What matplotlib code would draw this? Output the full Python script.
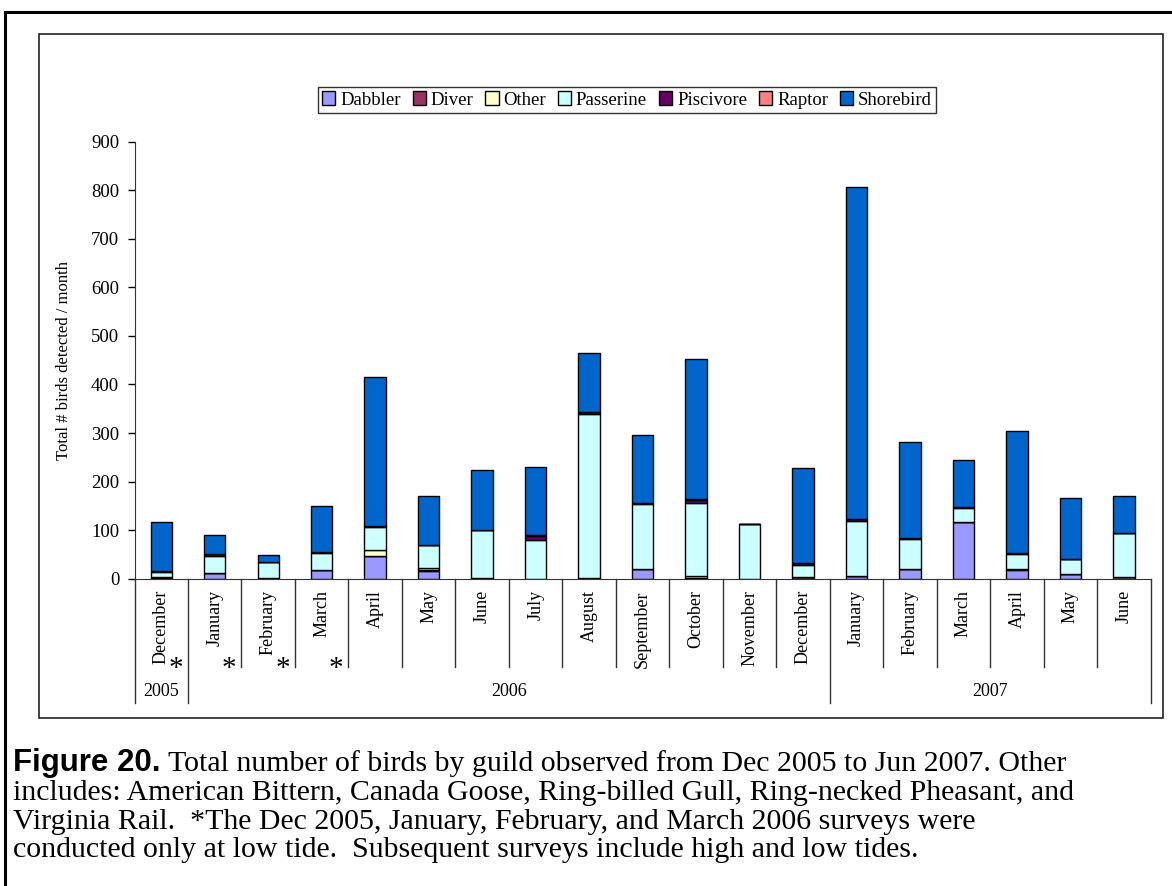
import matplotlib
matplotlib.use('Agg')
import matplotlib.pyplot as plt
import matplotlib.transforms as mtransforms
from matplotlib.patches import Rectangle
from matplotlib.lines import Line2D
import numpy as np

# survey months, Dec 2005 - Jun 2007
months = ['December', 'January', 'February', 'March', 'April', 'May', 'June',
          'July', 'August', 'September', 'October', 'November', 'December',
          'January', 'February', 'March', 'April', 'May', 'June']
years = ['2005', '2006', '2007']
year_span = [1, 12, 6]          # number of months under each year
low_tide_only = [0, 1, 2, 3]    # months marked with *

guilds = ['Dabbler', 'Diver', 'Other', 'Passerine', 'Piscivore', 'Raptor', 'Shorebird']
colors = ['#9999FF', '#993366', '#FFFFCC', '#CCFFFF', '#660066', '#FF8080', '#0066CC']

dabbler   = [1, 11, 1, 17, 47, 15, 1, 0, 0, 20, 2, 0, 0, 6, 20, 117, 18, 9, 3]
diver     = [2, 0, 1, 1, 0, 2, 0, 0, 2, 0, 0, 0, 4, 0, 0, 0, 2, 0, 0]
other     = [0, 0, 0, 0, 12, 5, 0, 0, 0, 0, 4, 0, 0, 0, 0, 0, 0, 0, 1]
passerine = [10, 36, 32, 34, 48, 47, 99, 80, 338, 133, 149, 112, 25, 113, 61, 28, 31, 31, 90]
piscivore = [3, 4, 1, 3, 1, 1, 0, 8, 4, 2, 7, 1, 3, 3, 3, 2, 1, 1, 1]
raptor    = [0, 0, 0, 0, 0, 0, 0, 1, 0, 0, 3, 0, 0, 0, 0, 0, 0, 0, 0]
shorebird = [101, 39, 13, 94, 308, 101, 123, 142, 121, 140, 288, 0, 196, 684, 197, 97, 253, 126, 75]

series = [dabbler, diver, other, passerine, piscivore, raptor, shorebird]

serif = ['Liberation Serif', 'DejaVu Serif']
plt.rcParams['font.family'] = serif

W, H = 1172, 886
fig = plt.figure(figsize=(W / 100, H / 100), dpi=100)

def px(x, y):
    # pixel position (from top left) -> figure fraction
    return x / W, 1 - y / H

# outer frame (top and left only) and inner chart box
fig.add_artist(Line2D([5 / W, 1], [1 - 12 / H] * 2, color='black', lw=2.2, transform=fig.transFigure))
fig.add_artist(Line2D([5 / W] * 2, [0, 1 - 12 / H], color='black', lw=2.2, transform=fig.transFigure))
x0, y1 = px(39, 34)
x1, y0 = px(1163, 718)
fig.add_artist(Rectangle((x0, y0), x1 - x0, y1 - y0, fill=False, ec='#222222', lw=1.2,
                         transform=fig.transFigure))

left, top = px(134.5, 141.7)
right, bottom = px(1150.7, 578.7)
ax = fig.add_axes([left, bottom, right - left, top - bottom])

x = np.arange(len(months))
base = np.zeros(len(months))
for name, vals, c in zip(guilds, series, colors):
    ax.bar(x, vals, width=0.4, bottom=base, color=c, edgecolor='black', linewidth=1.0,
           label=name)
    base += np.array(vals)

ax.set_xlim(-0.5, len(months) - 0.5)
ax.set_ylim(0, 900)
ax.set_yticks(range(0, 901, 100))
ax.tick_params(axis='y', length=5, width=1, pad=6, labelsize=13.5, direction='out')
ax.set_xticks([])
for s in ['top', 'right']:
    ax.spines[s].set_visible(False)
ax.spines['left'].set_color('#333333')
ax.spines['bottom'].set_color('#333333')
ax.set_ylabel('Total # birds detected / month', fontsize=12, labelpad=14)

# category axis: separators, month labels, year row
trans = mtransforms.blended_transform_factory(ax.transData, ax.transAxes)
ph = ax.get_position().height * H
def ay(ypx):
    return -(ypx - 578.7) / ph

year_edges = np.cumsum([0] + year_span) - 0.5
for b in np.arange(len(months) + 1) - 0.5:
    low = ay(703) if b in year_edges else ay(667)
    ax.plot([b, b], [0, low], color='#333333', lw=1, transform=trans, clip_on=False)

for i, m in enumerate(months):
    ax.text(i, ay(590), m, rotation=90, ha='center', va='top', fontsize=13, transform=trans)
for i in low_tide_only:
    ax.text(i + 0.27, ay(682), '*', ha='center', va='bottom', fontsize=21, transform=trans)
for k, yr in enumerate(years):
    ax.text((year_edges[k] + year_edges[k + 1]) / 2, ay(691), yr, ha='center', va='center',
            fontsize=13, transform=trans)

leg = ax.legend(loc='center', bbox_to_anchor=(px(627, 100)), bbox_transform=fig.transFigure,
                ncol=7, fontsize=13.5, frameon=True, fancybox=False, edgecolor='black',
                handlelength=0.7, handleheight=0.7, handletextpad=0.25, columnspacing=0.65,
                borderpad=0.22, borderaxespad=0)
leg.get_frame().set_linewidth(1.0)

# caption
cap_size = 21.5
lines = ['includes: American Bittern, Canada Goose, Ring-billed Gull, Ring-necked Pheasant, and',
         'Virginia Rail.  *The Dec 2005, January, February, and March 2006 surveys were',
         'conducted only at low tide.  Subsequent surveys include high and low tides.']
t0 = fig.text(*px(13, 771), 'Figure 20.', fontsize=22.5, fontweight='bold',
              family=['Liberation Sans', 'DejaVu Sans'], va='baseline')
fig.canvas.draw()
bb = t0.get_window_extent()
fig.text(bb.x1 / W + 7 / W, 1 - 771 / H,
         'Total number of birds by guild observed from Dec 2005 to Jun 2007. Other',
         fontsize=cap_size, va='baseline')
for k, ln in enumerate(lines):
    fig.text(*px(13, 800 + 28.6 * k), ln, fontsize=cap_size, va='baseline')

fig.savefig('out.png', dpi=100)
